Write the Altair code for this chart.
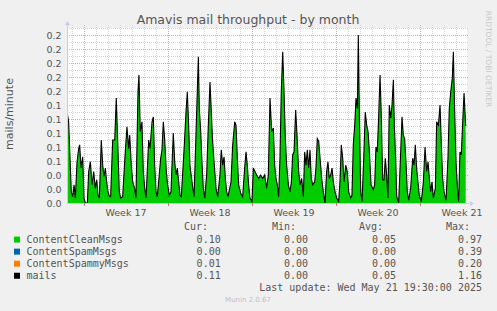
import altair as alt
import pandas as pd

TITLE = "Amavis mail throughput - by month"
Y_TITLE = "mails/minute"
WATERMARK = "RRDTOOL / TOBI OETIKER"
LAST_UPDATE = "Last update: Wed May 21 19:30:00 2025"
FOOTER = "Munin 2.0.67"

# time axis: days since Sunday 2025-04-20 00:00 (start of grid week 17)
days = [
    -1.41, -1.28, -1.06, -0.94, -0.83, -0.72, -0.58, -0.44, -0.36, -0.25, -0.11,
    0.00, 0.11, 0.28, 0.39, 0.53, 0.67, 0.81, 0.94, 1.06, 1.17, 1.28, 1.44, 1.56,
    1.67, 1.78, 1.89, 2.00, 2.11, 2.22, 2.39, 2.56, 2.69, 2.81, 2.94, 3.06, 3.22,
    3.44, 3.58, 3.72, 3.81, 3.94, 4.06, 4.22, 4.33, 4.50, 4.58, 4.69, 4.83, 4.94,
    5.06, 5.17, 5.39, 5.50, 5.67, 5.78, 5.89, 6.00, 6.11, 6.39, 6.50, 6.61, 6.72,
    6.86, 6.97, 7.11, 7.25, 7.44, 7.56, 7.67, 7.78, 7.89, 8.00, 8.11, 8.36, 8.50,
    8.61, 8.72, 8.83, 9.00, 9.17, 9.33, 9.44, 9.53, 9.61, 9.72, 9.83, 9.94, 10.06,
    10.22, 10.36, 10.50, 10.61, 10.72, 10.86, 11.00, 11.14, 11.33, 11.44, 11.56,
    11.67, 11.78, 11.89, 12.00, 12.25, 12.39, 12.56, 12.67, 12.78, 12.89, 13.06,
    13.22, 13.39, 13.50, 13.61, 13.72, 13.83, 14.00, 14.11, 14.25, 14.39, 14.56,
    14.72, 14.89, 15.06, 15.22, 15.36, 15.50, 15.64, 15.78, 15.89, 16.00, 16.11,
    16.22, 16.33, 16.44, 16.56, 16.67, 16.78, 16.89, 17.03, 17.17, 17.28, 17.39,
    17.50, 17.64, 17.75, 17.89, 18.00, 18.14, 18.28, 18.39, 18.50, 18.61, 18.72,
    18.83, 18.94, 19.06, 19.22, 19.33, 19.44, 19.56, 19.67, 19.81, 19.94, 20.08,
    20.22, 20.33, 20.44, 20.56, 20.67, 20.78, 20.92, 21.06, 21.22, 21.33, 21.44,
    21.56, 21.67, 21.81, 21.94, 22.06, 22.22, 22.33, 22.44, 22.56, 22.67, 22.78,
    22.86, 22.94, 23.06, 23.17, 23.31, 23.44, 23.56, 23.67, 23.78, 23.92, 24.11,
    24.22, 24.33, 24.44, 24.56, 24.67, 24.78, 24.89, 25.00, 25.11, 25.22, 25.33,
    25.44, 25.56, 25.67, 25.78, 25.86, 25.97, 26.06, 26.22, 26.39, 26.50, 26.61,
    26.72, 26.83, 26.94, 27.06, 27.22, 27.39, 27.50, 27.61, 27.72, 27.83, 27.94,
    28.11, 28.28, 28.42, 28.56, 28.67, 28.78, 28.89, 29.00, 29.11, 29.28, 29.39,
    29.53, 29.67, 29.78, 29.89, 30.00, 30.17, 30.33, 30.44, 30.56, 30.69, 30.78,
    30.89, 31.00, 31.14, 31.22, 31.33, 31.44, 31.56, 31.67, 31.75, 31.81,
]
mails = [
    0.130, 0.116, 0.016, 0.009, 0.026, 0.007, 0.059, 0.078, 0.083, 0.050, 0.066,
    0.007, 0.000, 0.000, 0.045, 0.059, 0.026, 0.045, 0.021, 0.033, 0.011, 0.007, 0.090, 0.054,
    0.038, 0.050, 0.030, 0.016, 0.010, 0.009, 0.090, 0.090, 0.150, 0.088, 0.016, 0.007, 0.009,
    0.073, 0.109, 0.078, 0.097, 0.054, 0.030, 0.021, 0.007, 0.159, 0.183, 0.102, 0.116, 0.045,
    0.021, 0.007, 0.090, 0.078, 0.116, 0.123, 0.054, 0.016, 0.009, 0.064, 0.076, 0.116, 0.092,
    0.045, 0.026, 0.011, 0.016, 0.100, 0.059, 0.040, 0.050, 0.030, 0.011, 0.009, 0.083, 0.130,
    0.159, 0.111, 0.054, 0.030, 0.009, 0.097, 0.159, 0.209, 0.135, 0.104, 0.059, 0.021, 0.007,
    0.040, 0.111, 0.173, 0.130, 0.088, 0.054, 0.021, 0.009, 0.040, 0.076, 0.054,
    0.066, 0.035, 0.016, 0.009, 0.030, 0.083, 0.116, 0.111, 0.064, 0.026, 0.014,
    0.009, 0.050, 0.073, 0.054, 0.026, 0.007, 0.002, 0.050, 0.045, 0.040, 0.035,
    0.040, 0.035, 0.040, 0.021, 0.040, 0.150, 0.102, 0.107, 0.054, 0.035, 0.026,
    0.009, 0.064, 0.159, 0.216, 0.159, 0.092, 0.054, 0.026, 0.016, 0.030, 0.069,
    0.073, 0.133, 0.097, 0.045, 0.026, 0.035, 0.009, 0.073, 0.054, 0.076, 0.050,
    0.076, 0.035, 0.026, 0.030, 0.050, 0.092, 0.088, 0.064, 0.035, 0.016, 0.000,
    0.045, 0.059, 0.035, 0.040, 0.050, 0.030, 0.016, 0.007, 0.002, 0.030, 0.083,
    0.064, 0.030, 0.054, 0.045, 0.016, 0.007, 0.011, 0.083, 0.111, 0.150, 0.135,
    0.240, 0.135, 0.016, 0.002, 0.064, 0.130, 0.111, 0.102, 0.075, 0.026, 0.019,
    0.026, 0.080, 0.073, 0.126, 0.183, 0.121, 0.033, 0.033, 0.064, 0.040, 0.007,
    0.140, 0.121, 0.140, 0.176, 0.111, 0.064, 0.009, 0.000, 0.073, 0.123, 0.097,
    0.092, 0.059, 0.016, 0.004, 0.021, 0.064, 0.054, 0.083, 0.050, 0.030, 0.011,
    0.002, 0.030, 0.080, 0.045, 0.059, 0.035, 0.016, 0.030, 0.007, 0.021, 0.116,
    0.111, 0.140, 0.083, 0.035, 0.016, 0.004, 0.064, 0.135, 0.159, 0.178, 0.216,
    0.130, 0.059, 0.016, 0.002, 0.073, 0.069, 0.116, 0.157, 0.130, 0.110,
]
# the few visible non-zero spam / spammy contributions (day -> value)
spam = {-1.41: 0.005, -1.28: 0.006}
spammy = {-1.28: 0.006, 1.78: 0.004, 5.67: 0.006, 9.61: 0.004, 12.39: 0.004, 31.81: 0.010}

series = ["ContentCleanMsgs", "ContentSpamMsgs", "ContentSpammyMsgs", "mails"]
colors = ["#00CC00", "#0066B3", "#FF8000", "#000000"]
cur_vals = ["0.10", "0.00", "0.01", "0.11"]
min_vals = ["0.00", "0.00", "0.00", "0.00"]
avg_vals = ["0.05", "0.00", "0.00", "0.05"]
max_vals = ["0.97", "0.39", "0.20", "1.16"]

week_labels = ["Week 17", "Week 18", "Week 19", "Week 20", "Week 21"]
week_mid = [3.5, 10.5, 17.5, 24.5, 31.5]
week_starts = [0, 7, 14, 21, 28]
y_ticks = [0.0, 0.02, 0.04, 0.06, 0.08, 0.10, 0.12, 0.14, 0.16, 0.18, 0.20, 0.22, 0.24]
y_minor = [0.01, 0.03, 0.05, 0.07, 0.09, 0.11, 0.13, 0.15, 0.17, 0.19, 0.21, 0.23, 0.25]
day_lines = [d for d in range(-1, 32) if d % 7 != 0]

W, H = 400, 175
FONT = "DejaVu Sans"
MONO = "DejaVu Sans Mono"
TXT = "#555555"

xs = alt.Scale(domain=[-17 / 12, 383 / 12], nice=False, zero=False)
ys = alt.Scale(domain=[0, 0.25], nice=False, zero=True)
yaxis = alt.Axis(
    values=y_ticks, format=".1f", ticks=False, domain=False, grid=False, title=None,
    labelFont=FONT, labelFontSize=9.5, labelColor=TXT, labelPadding=6,
)

def X(field):
    return alt.X(field, scale=xs, axis=None)

def Y(field, **kw):
    return alt.Y(field, scale=ys, axis=yaxis, **kw)

rows = []
for d, m in zip(days, mails):
    s = spam.get(d, 0.0)
    sp = spammy.get(d, 0.0)
    rows.append({"day": d, "series": series[0], "value": max(m - s - sp, 0.0), "k": 0})
    rows.append({"day": d, "series": series[1], "value": s, "k": 1})
    rows.append({"day": d, "series": series[2], "value": sp, "k": 2})
area_df = pd.DataFrame(rows)
line_df = pd.DataFrame({"day": days, "value": mails})

one = pd.DataFrame({"a": [0]})
GRID_MINOR = "#D2D2D2"
GRID_MAJOR = "#F0A0A0"

minor_v = alt.Chart(pd.DataFrame({"day": day_lines})).mark_rule(
    color=GRID_MINOR, strokeDash=[1, 1], strokeWidth=1, xOffset=0.5
).encode(x=X("day:Q"), y=alt.value(-3), y2=alt.value(H))

major_v = alt.Chart(pd.DataFrame({"day": week_starts})).mark_rule(
    color=GRID_MAJOR, strokeDash=[1, 1], strokeWidth=1, xOffset=0.5
).encode(x=X("day:Q"), y=alt.value(-3), y2=alt.value(H + 3))

minor_h = alt.Chart(pd.DataFrame({"v": y_minor})).mark_rule(
    color=GRID_MINOR, strokeDash=[1, 1], strokeWidth=1, yOffset=0.5
).encode(y=Y("v:Q"), x=alt.value(0), x2=alt.value(W + 2))

major_h = alt.Chart(pd.DataFrame({"v": y_ticks[1:]})).mark_rule(
    color=GRID_MAJOR, strokeDash=[1, 1], strokeWidth=1, yOffset=0.5
).encode(y=Y("v:Q"), x=alt.value(0), x2=alt.value(W + 2))

areas = alt.Chart(area_df).mark_area(interpolate="linear", clip=True).encode(
    x=X("day:Q"),
    y=Y("value:Q", stack="zero"),
    color=alt.Color("series:N", scale=alt.Scale(domain=series[:3], range=colors[:3]), legend=None),
    order=alt.Order("k:Q"),
)

line = alt.Chart(line_df).mark_line(color="#000000", strokeWidth=1.1, clip=True).encode(
    x=X("day:Q"),
    y=Y("value:Q"),
)

# axis lines, arrows and ticks
axis_col = "#C8C8F0"
y_axis_line = alt.Chart(one).mark_rule(color=axis_col, xOffset=0.5).encode(
    x=alt.value(0), y=alt.value(-3), y2=alt.value(H))
x_axis_line = alt.Chart(one).mark_rule(color=axis_col, yOffset=0.5).encode(
    x=alt.value(0), x2=alt.value(W + 2), y=alt.value(H))
arrow_up = alt.Chart(one).mark_point(shape="triangle-up", filled=True, size=22, color=axis_col, opacity=1).encode(
    x=alt.value(0.5), y=alt.value(-5))
arrow_right = alt.Chart(one).mark_point(shape="triangle-right", filled=True, size=22, color=axis_col, opacity=1).encode(
    x=alt.value(W + 5), y=alt.value(H + 0.5))
week_ticks = alt.Chart(pd.DataFrame({"day": week_starts})).mark_rule(color="#E07070", xOffset=0.5).encode(
    x=X("day:Q"), y=alt.value(H), y2=alt.value(H + 3))

week_text = alt.Chart(pd.DataFrame({"day": week_mid, "lab": week_labels})).mark_text(
    font=FONT, fontSize=9.5, color=TXT, baseline="middle", align="center"
).encode(x=X("day:Q"), y=alt.value(185), text="lab:N")

def label(txt, x, y, **kw):
    return alt.Chart(pd.DataFrame({"t": [txt]})).mark_text(baseline="middle", **kw).encode(
        x=alt.value(x), y=alt.value(y), text="t:N")

texts = [
    label(TITLE, 181, -8.5, font=FONT, fontSize=12.5, color=TXT, align="center"),
    label(Y_TITLE, -57, 86, font=FONT, fontSize=11, color=TXT, align="center", angle=270),
    label(WATERMARK, 421, 31, font=FONT, fontSize=7.5, color="#C8C8C8", align="center", angle=90),
    label("Cur:", 141, 199, font=MONO, fontSize=10, color=TXT, align="right"),
    label("Min:", 229, 199, font=MONO, fontSize=10, color=TXT, align="right"),
    label("Avg:", 316, 199, font=MONO, fontSize=10, color=TXT, align="right"),
    label("Max:", 403, 199, font=MONO, fontSize=10, color=TXT, align="right"),
    label(LAST_UPDATE, 415, 259.7, font=MONO, fontSize=10, color=TXT, align="right"),
    label(FOOTER, 181, 272, font=FONT, fontSize=7, color="#C0C0C0", align="center"),
]
for i, name in enumerate(series):
    yy = 211.6 + 12.05 * i
    texts.append(
        alt.Chart(pd.DataFrame({"a": [0]})).mark_square(size=36, color=colors[i], opacity=1).encode(
            x=alt.value(-50), y=alt.value(yy)))
    texts.append(label(name, -40.5, yy, font=MONO, fontSize=10, color=TXT, align="left"))
    for val, xr in zip([cur_vals[i], min_vals[i], avg_vals[i], max_vals[i]], [153.7, 241, 329, 415]):
        texts.append(label(val, xr, yy, font=MONO, fontSize=10, color=TXT, align="right"))

chart = alt.layer(
    minor_v, minor_h, major_v, major_h, areas, line,
    y_axis_line, x_axis_line, arrow_up, arrow_right, week_ticks, week_text, *texts
).properties(
    width=W, height=H,
    background="#F0F0F0",
    padding={"left": 67, "top": 28, "right": 30, "bottom": 108},
    autosize=alt.AutoSizeParams(type="none"),
).configure_view(fill="white", stroke=None)

chart.save("out.html", embed_options={"renderer": "svg", "actions": False})
